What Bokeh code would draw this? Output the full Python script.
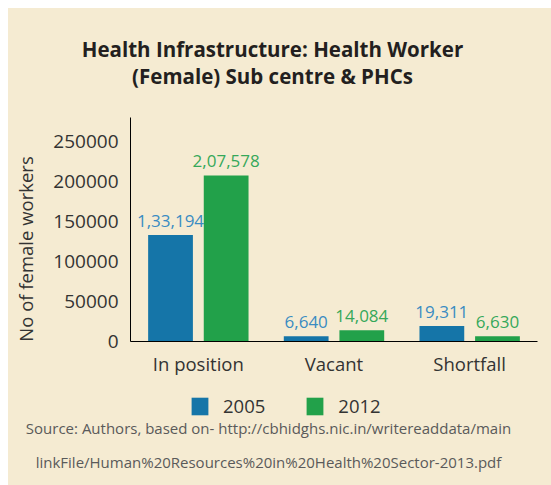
import math
from bokeh.plotting import figure
from bokeh.models import (ColumnDataSource, FactorRange, Range1d, FixedTicker,
                          NumeralTickFormatter, Label, LabelSet, Legend, LegendItem)
from bokeh.layouts import column, row
from bokeh.transform import dodge
from bokeh.core.properties import value
from bokeh.embed import file_html
from bokeh.resources import INLINE

# ---- data ----
categories = ["In position", "Vacant", "Shortfall"]
values_2005 = [133194, 6640, 19311]
values_2012 = [207578, 14084, 6630]
series_names = ["2005", "2012"]
y_ticks = [0, 50000, 100000, 150000, 200000, 250000]

title_lines = ["Health Infrastructure: Health Worker", "(Female) Sub centre & PHCs"]
source_lines = ["Source: Authors, based on- http://cbhidghs.nic.in/writereaddata/main",
                "linkFile/Human%20Resources%20in%20Health%20Sector-2013.pdf"]
y_label = "No of female workers"


def indian_format(n):
    s = str(int(n))
    if len(s) <= 3:
        return s
    head, tail = s[:-3], s[-3:]
    groups = []
    while len(head) > 2:
        groups.insert(0, head[-2:])
        head = head[:-2]
    if head:
        groups.insert(0, head)
    return ",".join(groups) + "," + tail


BG = "#f5ebd2"
BLUE = "#1575a8"
GREEN = "#22a14a"
BLUE_TXT = "#3a8cc2"
GREEN_TXT = "#35a85a"
DARK = "#333333"
FONT = "Open Sans"

W = 543
T_H, M_H, B_H = 109, 264, 104
L_W = 40
BG_STYLE = {"background-color": BG}


def blank_fig(w, h):
    f = figure(width=w, height=h, x_range=Range1d(0, w), y_range=Range1d(h, 0),
               output_backend="svg", toolbar_location=None, title=None,
               x_axis_type=None, y_axis_type=None,
               min_border_left=0, min_border_right=0, min_border_top=0, min_border_bottom=0,
               styles=BG_STYLE)
    f.background_fill_color = BG
    f.border_fill_color = BG
    f.outline_line_color = None
    f.xgrid.visible = False
    f.ygrid.visible = False
    return f


# ---- title panel ----
top = blank_fig(W, T_H)
for txt, yy in zip(title_lines, [40, 67]):
    top.add_layout(Label(x=264, y=yy, text=txt, text_align="center",
                         text_baseline="alphabetic", text_font=FONT,
                         text_font_size="20.5px", text_font_style="bold",
                         text_color="#231f20"))

# ---- y label panel ----
left = blank_fig(L_W, M_H)
left.add_layout(Label(x=17, y=155, text=y_label, angle=math.pi / 2,
                      text_align="center", text_baseline="middle",
                      text_font=FONT, text_font_size="18.5px", text_color=DARK))

# ---- main chart ----
src = ColumnDataSource(dict(
    cat=categories,
    v05=values_2005,
    v12=values_2012,
    l05=[indian_format(v) for v in values_2005],
    l12=[indian_format(v) for v in values_2012],
))

p = figure(x_range=FactorRange(*categories, range_padding=0),
           y_range=Range1d(0, 280000),
           width=W - L_W, height=M_H, output_backend="svg", toolbar_location=None,
           title=None,
           min_border_left=122 - L_W, min_border_right=14,
           min_border_top=0, min_border_bottom=40, styles=BG_STYLE)
p.background_fill_color = BG
p.border_fill_color = BG
p.outline_line_color = None
p.xgrid.visible = False
p.ygrid.visible = False

r05 = p.vbar(x=dodge("cat", -0.205, range=p.x_range), top="v05", width=0.33,
             source=src, fill_color=BLUE, line_color=None)
r12 = p.vbar(x=dodge("cat", 0.205, range=p.x_range), top="v12", width=0.33,
             source=src, fill_color=GREEN, line_color=None)

p.add_layout(LabelSet(x=dodge("cat", -0.205, range=p.x_range), y="v05", text="l05",
                      source=src, y_offset=8, text_align="center",
                      text_baseline="alphabetic", text_color=BLUE_TXT,
                      text_font=value(FONT), text_font_size="17px"))
p.add_layout(LabelSet(x=dodge("cat", 0.205, range=p.x_range), y="v12", text="l12",
                      source=src, y_offset=8, text_align="center",
                      text_baseline="alphabetic", text_color=GREEN_TXT,
                      text_font=value(FONT), text_font_size="17px"))

p.yaxis.ticker = FixedTicker(ticks=y_ticks)
p.yaxis.formatter = NumeralTickFormatter(format="0")
p.yaxis.major_tick_line_color = None
p.yaxis.minor_tick_line_color = None
p.yaxis.major_tick_out = 0
p.yaxis.major_label_standoff = 12
p.yaxis.axis_line_color = "black"
p.yaxis.major_label_text_font = FONT
p.yaxis.major_label_text_font_size = "19px"
p.yaxis.major_label_text_color = DARK

p.xaxis.major_tick_line_color = None
p.xaxis.minor_tick_line_color = None
p.xaxis.major_tick_out = 0
p.xaxis.major_label_standoff = 9
p.xaxis.axis_line_color = "black"
p.xaxis.major_label_text_font = FONT
p.xaxis.major_label_text_font_size = "18.5px"
p.xaxis.major_label_text_color = DARK

# ---- legend + source panel ----
bottom = blank_fig(W, B_H)
nan = float("nan")
d05 = bottom.vbar(x=[nan], top=[nan], width=1, fill_color=BLUE, line_color=None)
d12 = bottom.vbar(x=[nan], top=[nan], width=1, fill_color=GREEN, line_color=None)
legend = Legend(items=[LegendItem(label=series_names[0], renderers=[d05]),
                       LegendItem(label=series_names[1], renderers=[d12])],
                location=(181, B_H - 37), orientation="horizontal",
                background_fill_alpha=0, border_line_color=None,
                padding=0, margin=0, spacing=39,
                glyph_width=21, glyph_height=22, label_height=22,
                label_standoff=13,
                label_text_font=FONT, label_text_font_size="18.5px",
                label_text_color=DARK)
bottom.add_layout(legend, "center")
for txt, yy in zip(source_lines, [46, 80]):
    bottom.add_layout(Label(x=260, y=yy, text=txt, text_align="center",
                            text_baseline="alphabetic", text_font=FONT,
                            text_font_size="15px", text_color="#5a5a5a"))

layout = column(top, row(left, p, styles=BG_STYLE), bottom, styles=BG_STYLE,
                margin=(8, 0, 0, 8))
open("out.html", "w").write(file_html(layout, INLINE))
